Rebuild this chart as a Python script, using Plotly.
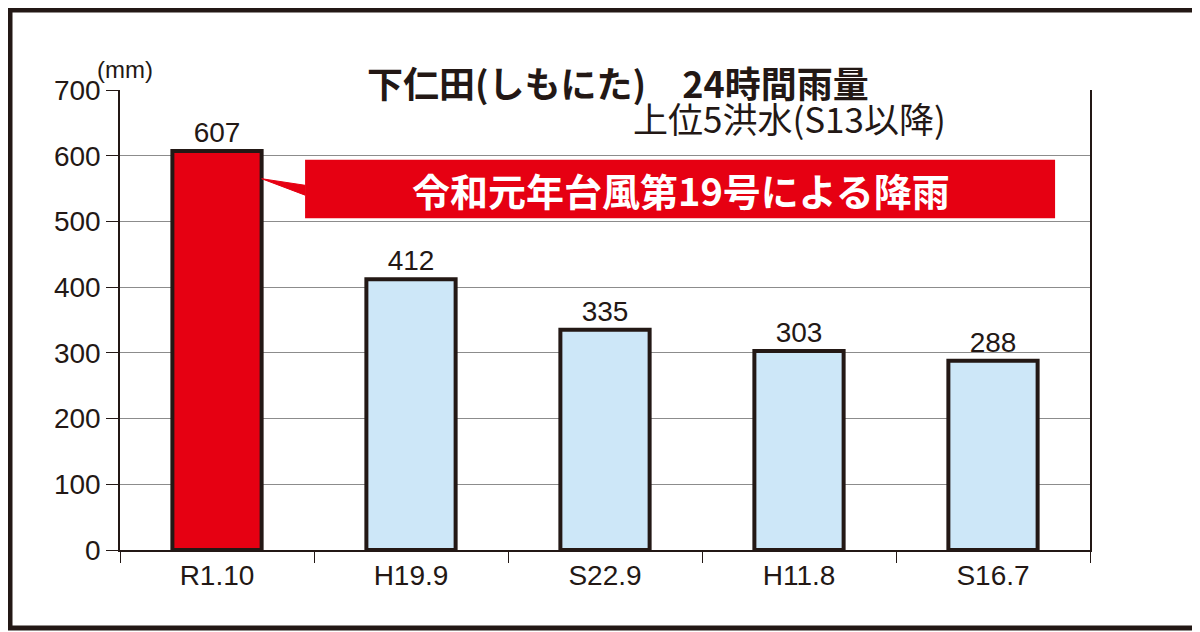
import plotly.graph_objects as go

categories = ["R1.10", "H19.9", "S22.9", "H11.8", "S16.7"]
rainfall = [607, 412, 335, 303, 288]
bar_colors = ["#e60012", "#cde7f8", "#cde7f8", "#cde7f8", "#cde7f8"]
y_ticks = [0, 100, 200, 300, 400, 500, 600, 700]

xs = list(range(len(categories)))
FONT = "Liberation Sans, Arial, Noto Sans CJK JP, sans-serif"

W, H = 1192, 624
L, R, T, B = 112, 110, 82, 82
PW, PH = W - L - R, H - T - B

fig = go.Figure()
fig.add_trace(go.Bar(
    x=xs, y=rainfall, width=0.46,
    marker=dict(color=bar_colors, line=dict(color="#231815", width=4)),
    text=[str(v) for v in rainfall], textposition="outside",
    textfont=dict(size=28, color="#231815", family=FONT),
    cliponaxis=False, showlegend=False,
))
# boundary ticks on the x axis
fig.add_trace(go.Scatter(x=[-0.5, 4.5], y=[0, 0], xaxis="x2", mode="lines",
                         line=dict(width=0), showlegend=False, hoverinfo="skip"))

fig.update_layout(
    width=W, height=H,
    margin=dict(l=L, r=R, t=T, b=B),
    plot_bgcolor="white", paper_bgcolor="white",
    font=dict(family=FONT, color="#231815"),
    xaxis=dict(range=[-0.5, 4.5], tickvals=xs, ticktext=categories, ticks="",
               tickfont=dict(size=28), showgrid=False, zeroline=False,
               showline=True, linecolor="#231815", linewidth=1.5),
    xaxis2=dict(range=[-0.5, 4.5], overlaying="x", tickvals=[-0.5, 0.5, 1.5, 2.5, 3.5, 4.5],
                showticklabels=False, ticks="outside", ticklen=12, tickcolor="#231815",
                showgrid=False, zeroline=False, side="bottom"),
    yaxis=dict(range=[0, 700], tickvals=y_ticks, tickfont=dict(size=28),
               ticks="outside", ticklen=12, tickcolor="#231815",
               showgrid=True, gridcolor="#8c8c8c", gridwidth=1.2, zeroline=False,
               showline=True, linecolor="#231815", linewidth=1.5, mirror=True),
)

# callout box and pointer
fig.add_shape(type="path", xref="x", yref="y", layer="above",
              path="M 0.23 565 L 0.454 555 L 0.454 540 Z",
              fillcolor="#e60012", line=dict(color="#e60012", width=1))
fig.add_shape(type="rect", xref="x", yref="y", x0=0.454, x1=4.32, y0=505, y1=594,
              fillcolor="#e60012", line=dict(width=0), layer="above")
fig.add_annotation(x=2.39, y=549, xref="x", yref="y", showarrow=False,
                   text="<b>令和元年台風第19号による降雨</b>",
                   font=dict(size=38, color="white", family="Noto Sans CJK JP"))
fig.add_annotation(x=2.95, y=658, xref="x", yref="y", showarrow=False,
                   text="上位5洪水(S13以降)",
                   font=dict(size=35, color="#231815", family="Noto Sans CJK JP"))
fig.add_annotation(x=0.513, y=1 + 36 / PH, xref="paper", yref="paper", showarrow=False,
                   text="<b>下仁田(しもにた)　24時間雨量</b>",
                   font=dict(size=36, color="#231815", family="Noto Sans CJK JP"))
fig.add_annotation(x=-25 / PW, y=1 + 36 / PH, xref="paper", yref="paper", showarrow=False,
                   text="(mm)", font=dict(size=24, color="#231815"))
# outer frame
fig.add_shape(type="rect", xref="paper", yref="paper",
              x0=-(L - 2) / PW, x1=1 + (R - 4) / PW, y0=-(B - 4) / PH, y1=1 + (T - 2) / PH,
              line=dict(color="#231815", width=5), fillcolor="rgba(0,0,0,0)")

fig.write_html("out.html")
